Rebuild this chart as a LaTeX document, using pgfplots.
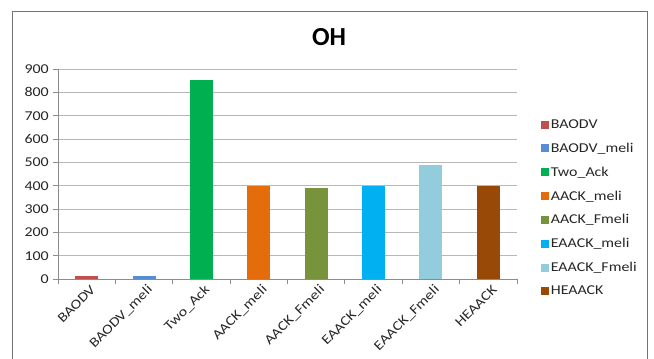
\documentclass[border=0pt]{standalone}
\usepackage{pgfplots}
\pgfplotsset{compat=1.18}
\usepackage{fontspec}
\setmainfont{Carlito}[FakeStretch=1.18]
\newfontfamily\titlefont{Carlito}
\definecolor{cA}{HTML}{C0504D}
\definecolor{cB}{HTML}{558ED5}
\definecolor{cC}{HTML}{00B050}
\definecolor{cD}{HTML}{E46C0A}
\definecolor{cE}{HTML}{77933C}
\definecolor{cF}{HTML}{00B0F0}
\definecolor{cG}{HTML}{93CDDD}
\definecolor{cH}{HTML}{984807}
\begin{document}
\begin{tikzpicture}[x=1pt,y=1pt]
\path[use as bounding box] (0,0) rectangle (654,-359);
\draw[black!55, line width=0.8pt] (12,-375) -- (12,-11) -- (647,-11) -- (647,-375);
\node[font=\fontsize{26}{30}\titlefont\bfseries] at (329,-37) {OH};
\begin{axis}[
  at={(58pt,-279pt)}, anchor=south west,
  scale only axis, width=459pt, height=210pt,
  xmin=-0.5, xmax=7.5, ymin=0, ymax=900,
  ytick={0,100,...,900},
  xtick={0,...,7},
  xticklabels={BAODV,BAODV\_meli,Two\_Ack,AACK\_meli,AACK\_Fmeli,EAACK\_meli,EAACK\_Fmeli,HEAACK},
  minor xtick={-0.5,0.5,...,7.5},
  major x tick style={draw=none},
  tick align=outside,
  major tick length=5pt, minor tick length=5pt,
  axis x line*=bottom, axis y line*=left,
  axis line style={black!45, line width=0.8pt},
  every tick/.style={black!45, line width=0.8pt},
  minor x tick style={black!45, line width=0.8pt},
  ymajorgrids, grid style={black!28, line width=0.8pt},
  /pgf/number format/assume math mode=true,
  ticklabel style={font=\fontsize{13.5}{15}\selectfont, text=black!85},
  xticklabel style={rotate=45, anchor=east, inner sep=1pt, yshift=-7pt, xshift=3pt},
  yticklabel style={inner sep=2pt, xshift=-2pt},
  legend style={at={(1.045,0.338)}, anchor=west, draw=none, fill=none,
    font=\fontsize{13.5}{15}\selectfont, row sep=9pt, text=black!85},
  legend cell align=left,
  legend image code/.code={\fill[#1, draw=none] (0pt,-4pt) rectangle (8pt,4pt);},
]
\addplot[ybar, bar width=23pt, fill=cA, draw=none] coordinates {(0,15)};
\addlegendentry{BAODV}
\addplot[ybar, bar width=23pt, fill=cB, draw=none] coordinates {(1,15)};
\addlegendentry{BAODV\_meli}
\addplot[ybar, bar width=23pt, fill=cC, draw=none] coordinates {(2,852)};
\addlegendentry{Two\_Ack}
\addplot[ybar, bar width=23pt, fill=cD, draw=none] coordinates {(3,400)};
\addlegendentry{AACK\_meli}
\addplot[ybar, bar width=23pt, fill=cE, draw=none] coordinates {(4,392)};
\addlegendentry{AACK\_Fmeli}
\addplot[ybar, bar width=23pt, fill=cF, draw=none] coordinates {(5,400)};
\addlegendentry{EAACK\_meli}
\addplot[ybar, bar width=23pt, fill=cG, draw=none] coordinates {(6,487)};
\addlegendentry{EAACK\_Fmeli}
\addplot[ybar, bar width=23pt, fill=cH, draw=none] coordinates {(7,400)};
\addlegendentry{HEAACK}
\end{axis}
\end{tikzpicture}
\end{document}
